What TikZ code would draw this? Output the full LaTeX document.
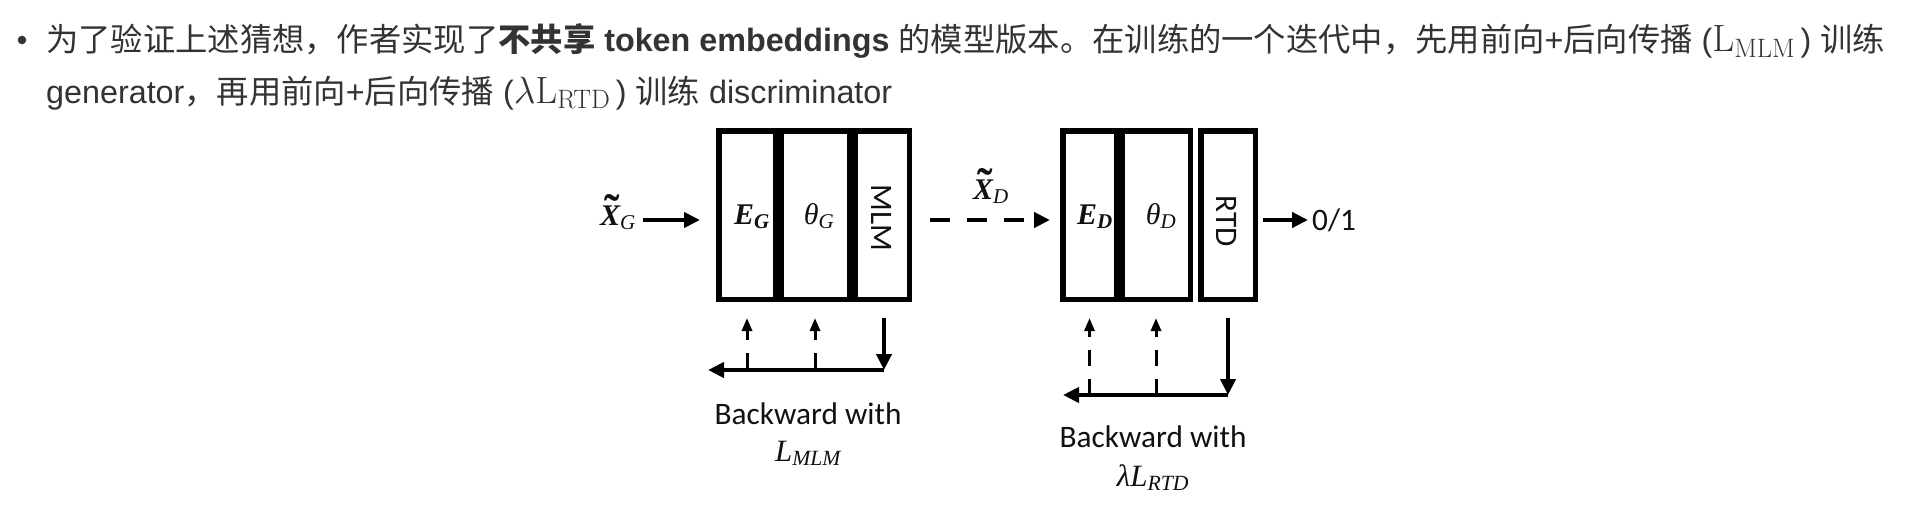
\RequirePackage{fix-cm}
\documentclass[tikz,border=0pt]{standalone}
\usepackage[no-math]{fontspec}
\setmainfont{Liberation Sans}
\newfontfamily\cjk{Noto Sans CJK SC}
\newfontfamily\calib{Carlito}
\newfontfamily\lsr{Liberation Serif}
\newcommand\mitx[1]{{\lsr\itshape #1}}
\newcommand\mbtx[1]{{\lsr\bfseries\itshape #1}}
\newcommand\tildeX{\ooalign{\mbtx{X}\cr\hidewidth\kern4pt\raisebox{-1pt}{\fontsize{46}{46}\selectfont\lsr\bfseries\char"02DC}\hidewidth\cr}}
\usetikzlibrary{arrows.meta}
\definecolor{txt}{HTML}{333333}
\definecolor{ink}{HTML}{111111}
\begin{document}
\begin{tikzpicture}[x=1pt,y=-1pt,
  hdr/.style={anchor=base west, inner sep=0pt, text=txt, font=\fontsize{32.3}{38}\selectfont},
  layer/.style={draw=black, line width=5.5pt, minimum height=168.5pt, inner sep=0pt, outer sep=0pt},
  lbl/.style={inner sep=0pt, text=ink, font=\calib\fontsize{31.3}{36}\selectfont},
  mth/.style={inner sep=0pt, text=ink, font=\fontsize{30}{34}\selectfont},
  bmth/.style={inner sep=0pt, text=ink, font=\fontsize{31}{35}\selectfont},
  arr/.style={line width=4pt, -{Triangle[length=16pt,width=15pt]}},
  uparr/.style={line width=3pt, -{Triangle[length=13pt,width=10pt]}},
]
\useasboundingbox (0,0) rectangle (1918,516);
\fill[white] (0,0) rectangle (1918,516);

% header text
\fill[txt] (22,40) circle (4.3pt);
\node[hdr] (line1) at (46,52) {{\cjk 为了验证上述猜想，作者实现了}{\cjk\bfseries 不共享} \textbf{token embeddings} {\cjk 的模型版本。在训练的一个迭代中，先用前向}+{\cjk 后向传播} ({\fontsize{38}{38}\selectfont$\mathrm{L}_{\mathrm{MLM}}$}\,) {\cjk 训练}};
\node[hdr] (line2) at (46,103) {generator{\cjk ，再用前向}+{\cjk 后向传播} ({\fontsize{38}{38}\selectfont$\lambda\mathrm{L}_{\mathrm{RTD}}$}\,) {\cjk 训练} discriminator};

% generator layers
\node[layer, minimum width=56.5pt] (EG) at (747,215) {};
\node[layer, minimum width=68.5pt] (thG) at (815,215) {};
\node[layer, minimum width=54.5pt] (MLM) at (882,215) {};
% discriminator layers
\node[layer, minimum width=53.5pt] (ED) at (1089.5,215) {};
\node[layer, minimum width=68.5pt] (thD) at (1156,215) {};
\node[layer, minimum width=54.5pt] (RTD) at (1228,215) {};

% labels inside
\node[mth, anchor=base] (EGl) at (752,224) {\mbtx{E}\textsubscript{\mbtx{G}}};
\node[mth, anchor=base] (thGl) at (819,224) {\mitx{θ}\textsubscript{\mitx{G}}};
\node[lbl, rotate=-90] (MLMl) at (882,218) {MLM};
\node[mth, anchor=base] (EDl) at (1095,224) {\mbtx{E}\textsubscript{\mbtx{D}}};
\node[mth, anchor=base] (thDl) at (1161,224) {\mitx{θ}\textsubscript{\mitx{D}}};
\node[lbl, rotate=-90] (RTDl) at (1227,221) {RTD};

% inputs / outputs
\node[mth, anchor=base] (XG) at (618,225) {\tildeX\textsubscript{\mitx{G}}};
\node[mth, anchor=base] (XD) at (991,199) {\tildeX\textsubscript{\mitx{D}}};
\node[lbl, anchor=base west] (O1) at (1312,230) {0/1};
\coordinate (midy) at (0,220);

\draw[arr, shorten <=7pt] (XG.east |- midy) -- ([xshift=-18.75pt]EG.west |- midy);
\draw[arr, dash pattern=on 20pt off 17pt, shorten <=20.75pt, shorten >=12.75pt] (MLM.east |- midy) -- (ED.west |- midy);
\draw[arr, shorten <=7.75pt, shorten >=4pt] (RTD.east |- midy) -- (O1.west |- midy);

% backward, generator
\coordinate (c1) at (884,370);
\coordinate (e1) at (708,370);
\draw[arr, shorten <=18.75pt] (MLM.south -| c1) -- (c1);
\draw[arr] (c1) -- (e1);
\draw[uparr, dash pattern=on 17pt off 13pt, shorten >=18.75pt] (EG.south |- c1) -- (EG.south);
\draw[uparr, dash pattern=on 17pt off 13pt, shorten >=18.75pt] (thG.south |- c1) -- (thG.south);
\node[lbl, anchor=base] (bw1) at (808,424) {Backward with};
\node[bmth, anchor=base] (L1) at (808,461) {\mitx{L}\textsubscript{\mitx{MLM}}};

% backward, discriminator
\coordinate (c2) at (1228,395);
\coordinate (e2) at (1063,395);
\draw[arr, shorten <=18.75pt] (RTD.south) -- (c2);
\draw[arr] (c2) -- (e2);
\draw[uparr, dash pattern=on 16pt off 13pt, shorten >=18.75pt] (ED.south |- c2) -- (ED.south);
\draw[uparr, dash pattern=on 16pt off 13pt, shorten >=18.75pt] (thD.south |- c2) -- (thD.south);
\node[lbl, anchor=base] (bw2) at (1153,447) {Backward with};
\node[bmth, anchor=base] (L2) at (1153,486) {\mitx{λL}\textsubscript{\mitx{RTD}}};
\end{tikzpicture}
\end{document}
